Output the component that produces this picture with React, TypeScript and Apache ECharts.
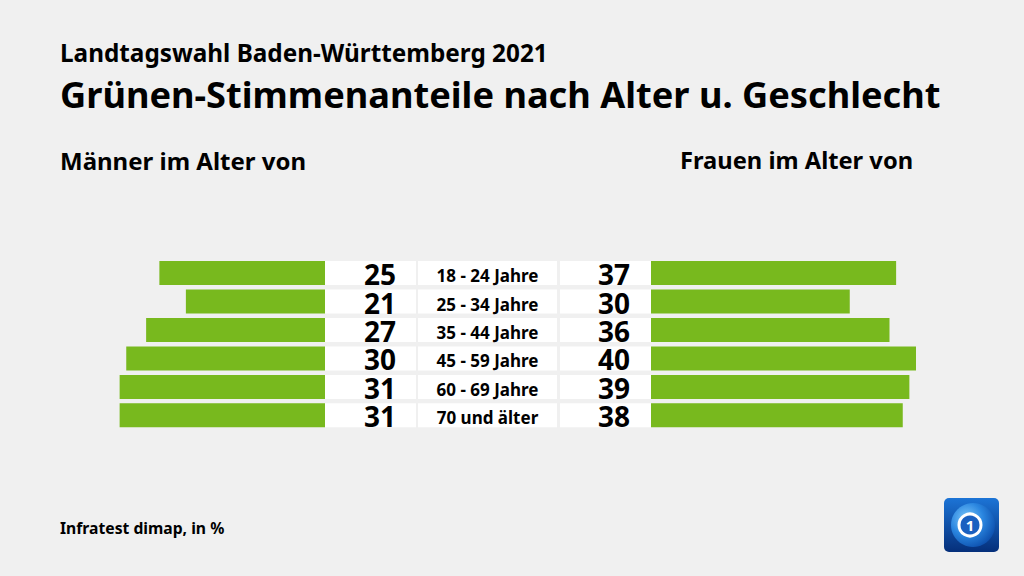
import React, { useEffect, useRef } from "react";
import * as echarts from "echarts";

const categories = ["18 - 24 Jahre", "25 - 34 Jahre", "35 - 44 Jahre", "45 - 59 Jahre", "60 - 69 Jahre", "70 und älter"];
const men = [25, 21, 27, 30, 31, 31];
const women = [37, 30, 36, 40, 39, 38];

const GREEN = "#78b91e";
const FONT = "'Noto Sans', sans-serif";
const GRID_TOP = 258.8;
const GRID_H = 170.8;

export default function App() {
  const ref = useRef<HTMLDivElement>(null);
  useEffect(() => {
    const chart = echarts.init(ref.current!, undefined, { renderer: "svg" });
    const yCat = (gi: number) => ({
      type: "category",
      gridIndex: gi,
      data: categories,
      inverse: true,
      show: false,
    });
    const t = (x: number, y: number, text: string, size: number) => ({
      type: "text",
      x,
      y,
      style: { text, font: `bold ${size}px ${FONT}`, fill: "#000", verticalAlign: "middle", align: "left" },
    });
    chart.setOption({
      animation: false,
      backgroundColor: "#f0f0f0",
      grid: [
        { left: 60, width: 265, top: GRID_TOP, height: GRID_H, containLabel: false },
        { left: 325, width: 326, top: GRID_TOP, height: GRID_H, containLabel: false },
        { left: 651, width: 265, top: GRID_TOP, height: GRID_H, containLabel: false },
      ],
      xAxis: [
        { type: "value", gridIndex: 0, min: 0, max: 40, inverse: true, show: false },
        { type: "value", gridIndex: 1, min: 0, max: 326, show: false },
        { type: "value", gridIndex: 2, min: 0, max: 40, show: false },
      ],
      yAxis: [yCat(0), yCat(1), yCat(2)],
      series: [
        {
          type: "bar",
          xAxisIndex: 0,
          yAxisIndex: 0,
          data: men,
          barWidth: 24,
          itemStyle: { color: GREEN },
          silent: true,
        },
        {
          type: "bar",
          xAxisIndex: 2,
          yAxisIndex: 2,
          data: women,
          barWidth: 24,
          itemStyle: { color: GREEN },
          silent: true,
        },
        {
          type: "custom",
          xAxisIndex: 1,
          yAxisIndex: 1,
          data: categories.map((c, i) => [0, i, men[i], women[i]]),
          encode: { x: 0, y: 1 },
          renderItem: (params: any, api: any) => {
            const idx = api.value(1);
            const p = api.coord([0, idx]);
            const h = 24;
            const x0 = p[0];
            const yTop = p[1] - h / 2;
            const m = api.value(2);
            const w = api.value(3);
            const lab = categories[idx];
            return {
              type: "group",
              children: [
                { type: "rect", shape: { x: x0, y: yTop, width: 91, height: h }, style: { fill: "#ffffff" } },
                { type: "rect", shape: { x: x0 + 93, y: yTop, width: 139, height: h }, style: { fill: "#ffffff" } },
                { type: "rect", shape: { x: x0 + 235, y: yTop, width: 91, height: h }, style: { fill: "#ffffff" } },
                {
                  type: "text",
                  style: {
                    x: x0 + 71, y: p[1] + 1, text: String(m), align: "right", verticalAlign: "middle",
                    font: `bold 28px ${FONT}`, lineHeight: 24, fill: "#000",
                  },
                },
                {
                  type: "text",
                  style: {
                    x: x0 + 162.5, y: p[1] + 2.5, text: lab, align: "center", verticalAlign: "middle",
                    font: `bold 17px ${FONT}`, lineHeight: 18, fill: "#000",
                  },
                },
                {
                  type: "text",
                  style: {
                    x: x0 + 305, y: p[1] + 1, text: String(w), align: "right", verticalAlign: "middle",
                    font: `bold 28px ${FONT}`, lineHeight: 24, fill: "#000",
                  },
                },
              ],
            };
          },
        },
      ],
      graphic: [
        t(60, 52, "Landtagswahl Baden-Württemberg 2021", 24.3),
        t(60, 94, "Grünen-Stimmenanteile nach Alter u. Geschlecht", 36.2),
        t(60, 160, "Männer im Alter von", 24),
        t(680, 160, "Frauen im Alter von", 23.7),
        t(60, 527.5, "Infratest dimap, in %", 15.7),
        {
          type: "group",
          x: 944,
          y: 498,
          children: [
            {
              type: "rect",
              shape: { x: 0, y: 0, width: 55, height: 54, r: 5 },
              style: {
                fill: new echarts.graphic.LinearGradient(0, 0, 0, 1, [
                  { offset: 0, color: "#1c74d6" },
                  { offset: 1, color: "#052f7a" },
                ]),
              },
            },
            {
              type: "circle",
              shape: { cx: 29, cy: 27, r: 22 },
              style: {
                fill: new echarts.graphic.RadialGradient(0.35, 0.35, 0.75, [
                  { offset: 0, color: "#7cc8fa" },
                  { offset: 0.5, color: "#2a86e0" },
                  { offset: 1, color: "#0a4aa8" },
                ]),
              },
            },
            { type: "circle", shape: { cx: 26, cy: 27, r: 11 }, style: { fill: "#1a60c0", stroke: "#ffffff", lineWidth: 3 } },
            { type: "text", style: { x: 26, y: 27, text: "1", align: "center", verticalAlign: "middle", font: `bold 15px ${FONT}`, fill: "#ffffff" } },
          ],
        },
      ],
    });
    return () => chart.dispose();
  }, []);
  return <div ref={ref} style={{ width: 1024, height: 576, position: "absolute", left: 0, top: 0 }} />;
}
